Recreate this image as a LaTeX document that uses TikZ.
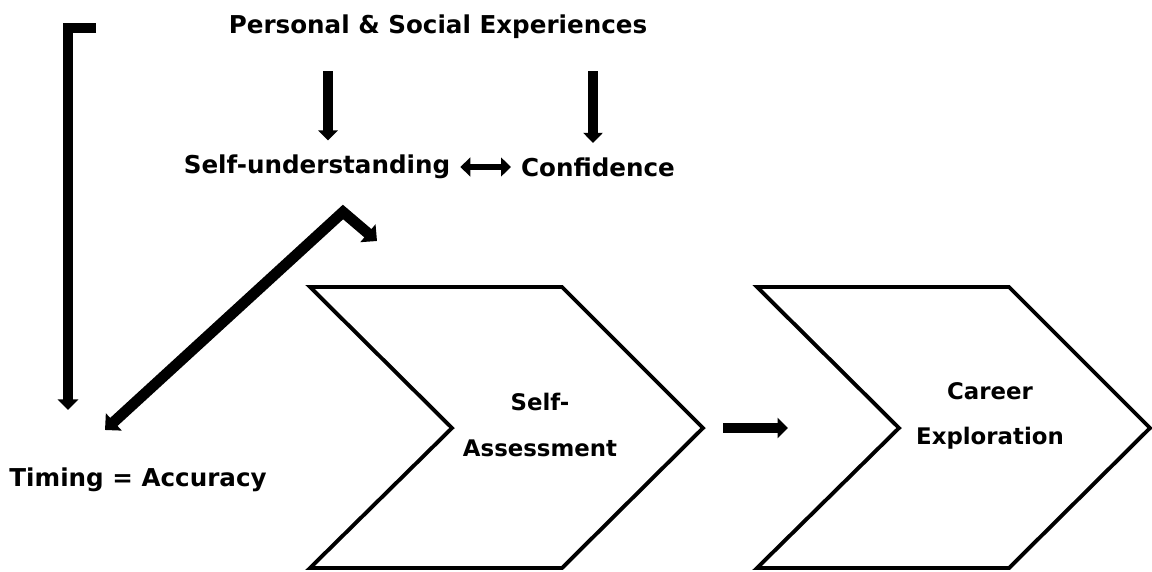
\documentclass[tikz,border=0pt]{standalone}
\usepackage{fontspec}
\setmainfont{DejaVu Sans}
\usetikzlibrary{arrows.meta}

\tikzset{
    lbl/.style={font=\bfseries\fontsize{14}{17}\selectfont, inner sep=1pt},
    steplbl/.style={font=\bfseries\fontsize{13}{26}\selectfont, align=center, inner sep=1pt},
    chev/.style={draw=black, line width=2.2pt, line join=miter},
}

\begin{document}
\begin{tikzpicture}[x=0.02cm, y=-0.02cm]
    \useasboundingbox (0,0) rectangle (1152,571);

    % chevrons
    \foreach \dx in {0,447}
        \draw[chev, shift={(\dx,0)}] (310,287) -- (562,287) -- (703,428) -- (562,568) -- (310,568) -- (452,428) -- cycle;

    \begin{scope}[every node/.style={lbl}]
        \node (pse) at (438,27) {Personal \& Social Experiences};
        \node (su) at (317,167) {Self-understanding};
        \node (conf) at (598,167) {Confidence};
        \node (ta) at (138,480) {Timing = Accuracy};
        \node[steplbl] (sa) at (540,425) {Self-\\Assessment};
        \node[steplbl] (ce) at (990,416) {Career\\Exploration};
    \end{scope}

    \coordinate (brtop) at (96,28);
    \coordinate (brcorner) at (68,28);
    \coordinate (brend) at (68,410);
    \coordinate (bendL) at (105,430);
    \coordinate (apex) at (343,212);
    \coordinate (bendR) at (377,241);
    \coordinate (gapL) at (723,428);
    \coordinate (gapR) at (788,428);

    \begin{scope}[>={Triangle[length=0pt 1.1, width=0pt 2.1]}, line join=miter]
        \draw[->, line width=5.5pt] (brtop) -- (brcorner) -- (brend);
        \path[->, line width=5.2pt] ([xshift=0.22cm]su.north |- pse.south) edge[shorten <=0.6cm, shorten >=0.25cm] ([xshift=0.22cm]su.north);
        \path[->, line width=5.2pt] ([xshift=-0.1cm]conf.north |- pse.south) edge[shorten <=0.6cm, shorten >=0.25cm] ([xshift=-0.1cm]conf.north);
        \draw[<->, line width=3.8pt, >={Triangle[length=0pt 1.5, width=0pt 2.8]}, shorten <=0.16cm, shorten >=0.16cm] (su.east) -- (conf.west);
        \draw[<->, line width=6.2pt] (bendL) -- (apex) -- (bendR);
        \draw[->, line width=5.4pt] (gapL) -- (gapR);
    \end{scope}
\end{tikzpicture}
\end{document}
